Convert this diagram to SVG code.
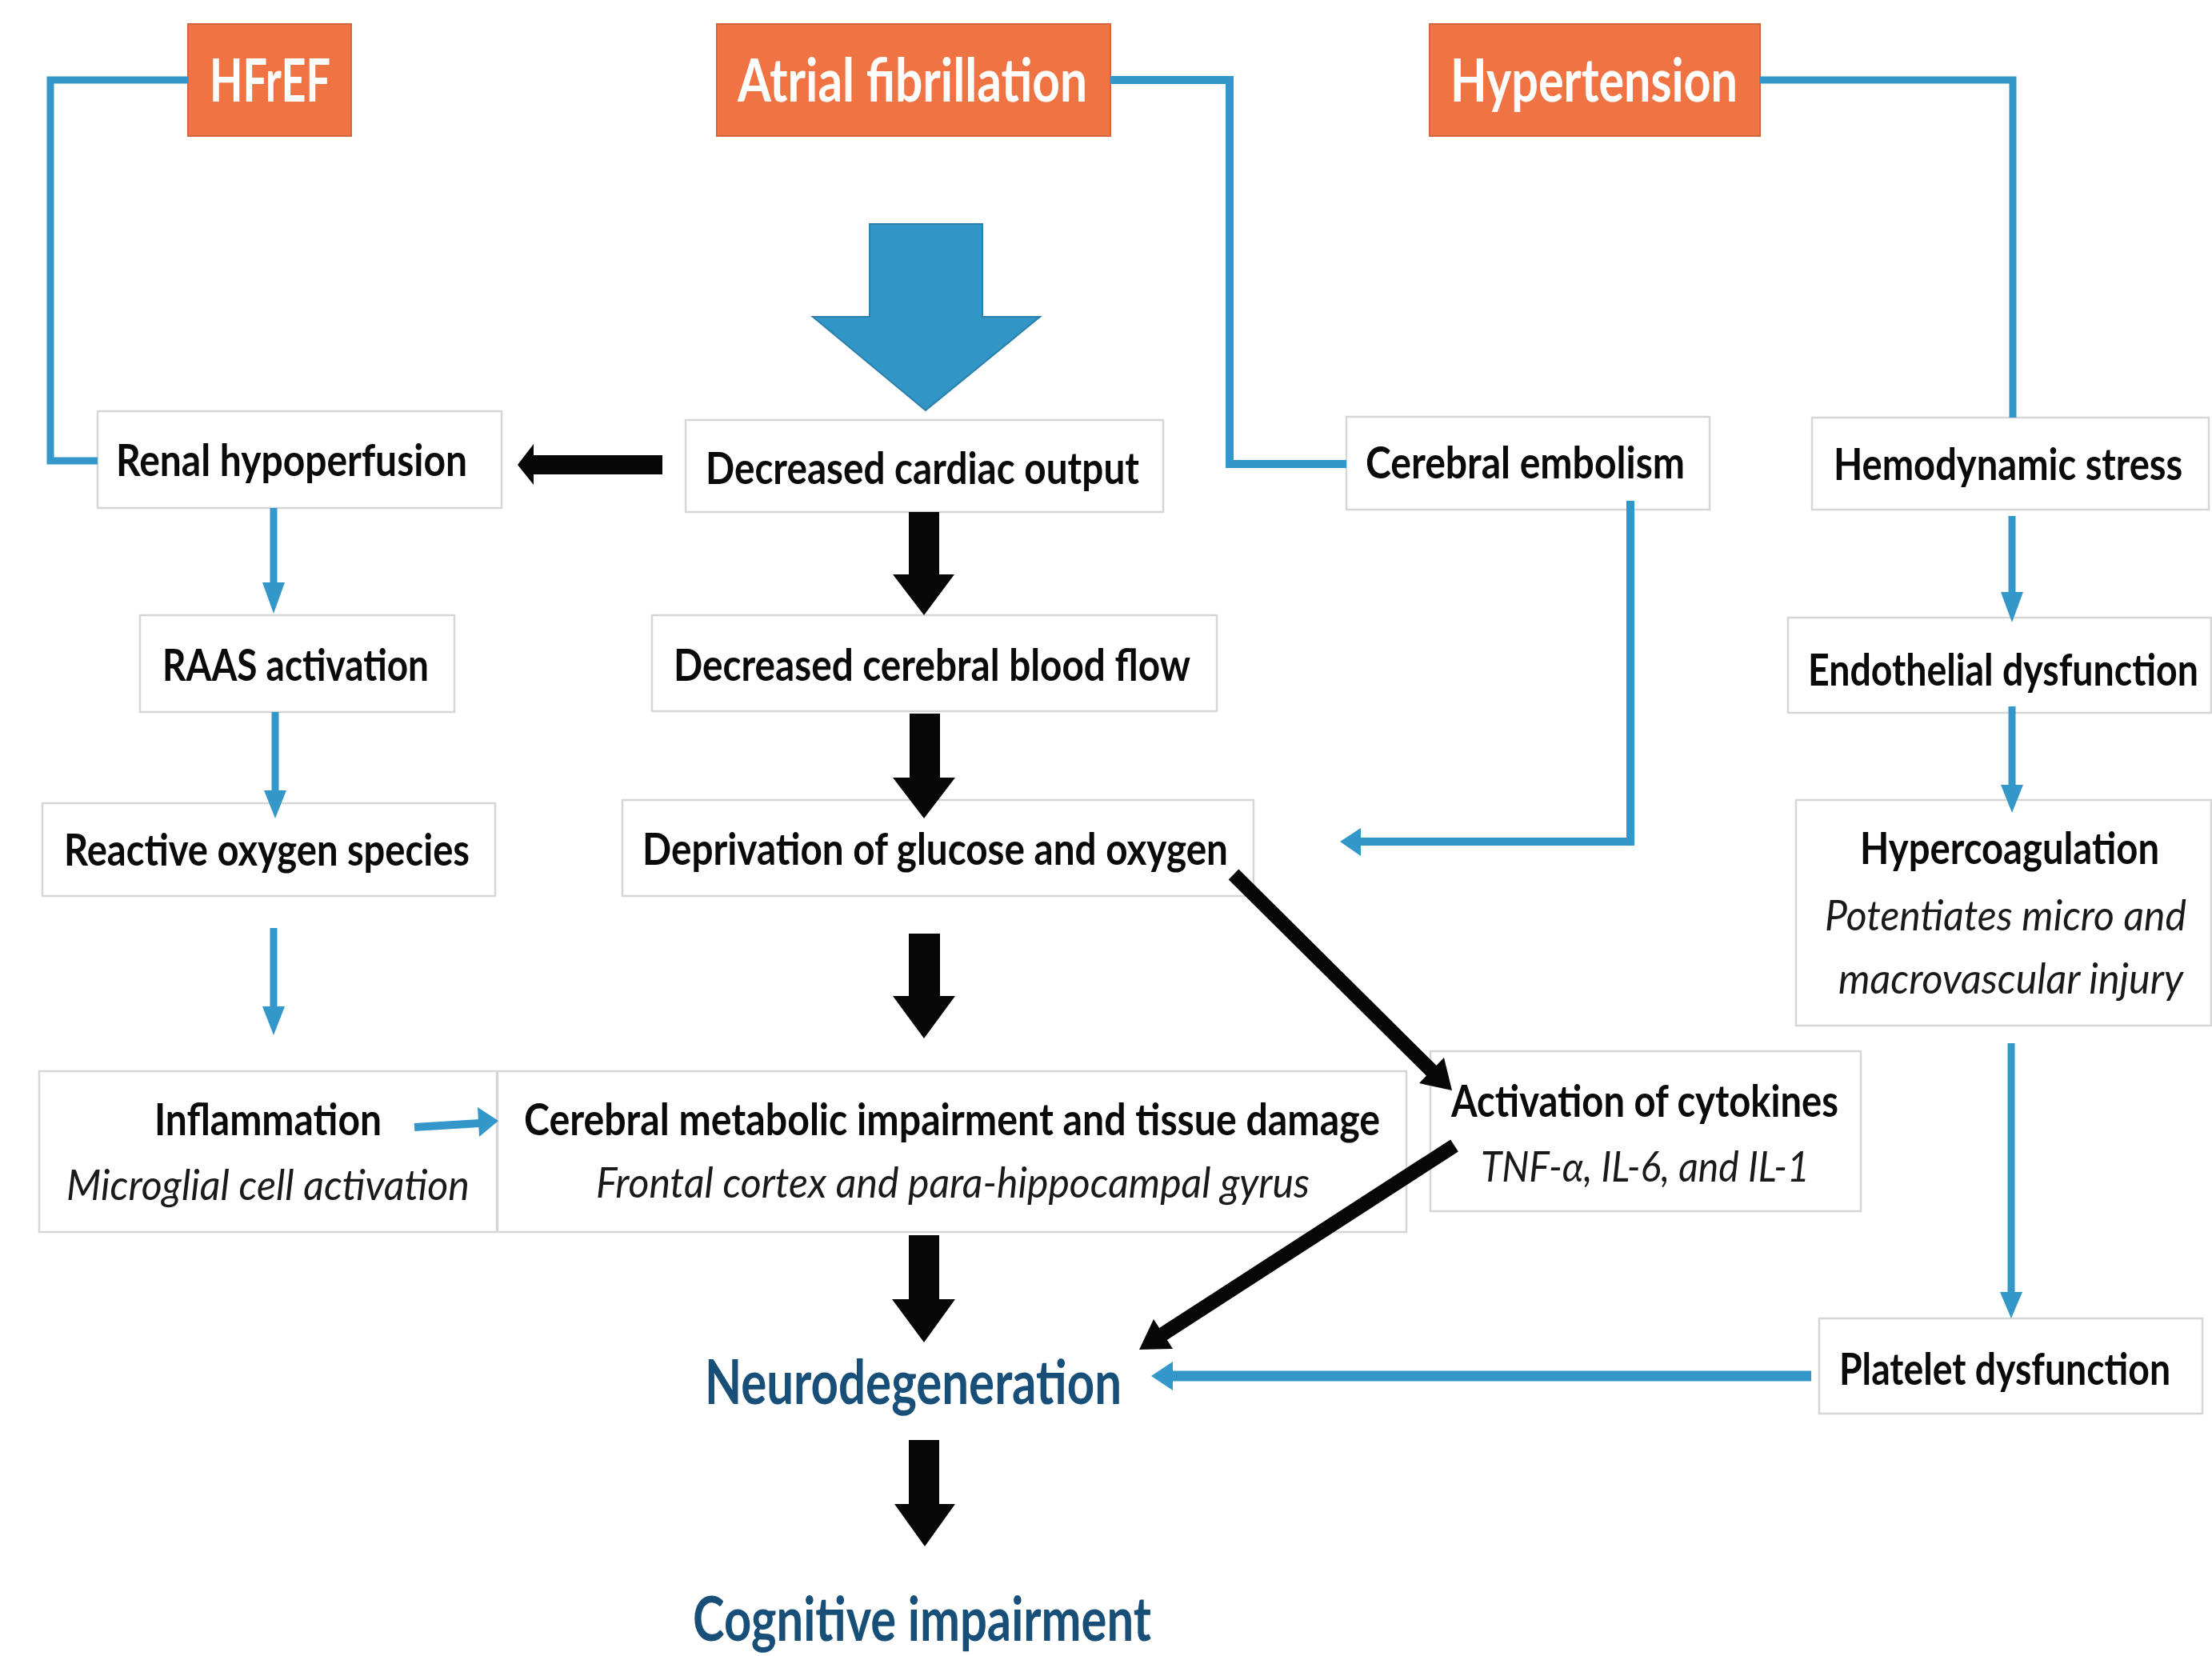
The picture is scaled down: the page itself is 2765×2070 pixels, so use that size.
<svg xmlns="http://www.w3.org/2000/svg" width="2765" height="2070" viewBox="0 0 2765 2070">
<style>
.box{fill:#ffffff;stroke:#d6d6d6;stroke-width:2.5}
.obox{fill:#f07443;stroke:#d2663c;stroke-width:2}
.t{font-family:Lato,"Liberation Sans",sans-serif;font-weight:bold;font-size:55px;fill:#0a0a0a}
.i{font-family:Lato,"Liberation Sans",sans-serif;font-style:italic;font-size:53px;fill:#1a1a1a}
.ot{font-family:Lato,"Liberation Sans",sans-serif;font-weight:bold;font-size:74px;fill:#ffffff}
.bt{font-family:Lato,"Liberation Sans",sans-serif;font-weight:bold;font-size:77px;fill:#174f78}
.bl{fill:none;stroke:#3398c9;stroke-width:9;stroke-linejoin:miter}
.bh{fill:#3398c9}
.blk{fill:#070707}
.bk{stroke:#070707;stroke-width:18;fill:none}
</style>
<rect width="2765" height="2070" fill="#ffffff"/>
<g id="hfref"><rect class="obox" x="235" y="30" width="204" height="140"/><text class="ot" x="262" y="127" textLength="151" lengthAdjust="spacingAndGlyphs">HFrEF</text></g>
<g id="af"><rect class="obox" x="896" y="30" width="492" height="140"/><text class="ot" x="922" y="127" textLength="437" lengthAdjust="spacingAndGlyphs">Atrial fibrillation</text></g>
<g id="htn"><rect class="obox" x="1787" y="30" width="413" height="140"/><text class="ot" x="1813" y="127" textLength="359" lengthAdjust="spacingAndGlyphs">Hypertension</text></g>
<g id="renal"><rect class="box" x="122" y="514" width="505" height="121"/><text class="t" x="145" y="595" textLength="439" lengthAdjust="spacingAndGlyphs">Renal hypoperfusion</text></g>
<g id="dco"><rect class="box" x="857" y="525" width="597" height="115"/><text class="t" x="882" y="605" textLength="542" lengthAdjust="spacingAndGlyphs">Decreased cardiac output</text></g>
<g id="embolism"><rect class="box" x="1683" y="521" width="454" height="116"/><text class="t" x="1707" y="598" textLength="399" lengthAdjust="spacingAndGlyphs">Cerebral embolism</text></g>
<g id="hemo"><rect class="box" x="2265" y="522" width="496" height="115"/><text class="t" transform="translate(2292,600) scale(0.82,1)" x="0" y="0" textLength="532" lengthAdjust="spacingAndGlyphs">Hemodynamic stress</text></g>
<g id="raas"><rect class="box" x="175" y="769" width="393" height="121"/><text class="t" x="203" y="851" textLength="333" lengthAdjust="spacingAndGlyphs">RAAS activation</text></g>
<g id="dcbf"><rect class="box" x="815" y="769" width="706" height="120"/><text class="t" x="842" y="851" textLength="646" lengthAdjust="spacingAndGlyphs">Decreased cerebral blood flow</text></g>
<g id="endo"><rect class="box" x="2235" y="772" width="529" height="119"/><text class="t" transform="translate(2260,857) scale(0.82,1)" x="0" y="0" textLength="595" lengthAdjust="spacingAndGlyphs">Endothelial dysfunction</text></g>
<g id="ros"><rect class="box" x="53" y="1004" width="566" height="116"/><text class="t" x="80" y="1082" textLength="507" lengthAdjust="spacingAndGlyphs">Reactive oxygen species</text></g>
<g id="deprivation"><rect class="box" x="778" y="1000" width="789" height="120"/><text class="t" x="803" y="1081" textLength="732" lengthAdjust="spacingAndGlyphs">Deprivation of glucose and oxygen</text></g>
<g id="hypercoag"><rect class="box" x="2245" y="1000" width="519" height="282"/><text class="t" x="2325" y="1080" textLength="374" lengthAdjust="spacingAndGlyphs">Hypercoagulation</text><text class="i" x="2281" y="1163" textLength="452" lengthAdjust="spacingAndGlyphs">Potentiates micro and</text><text class="i" x="2298" y="1242" textLength="431" lengthAdjust="spacingAndGlyphs">macrovascular injury</text></g>
<g id="inflammation"><rect class="box" x="49" y="1339" width="572" height="201"/><text class="t" x="193" y="1419" textLength="284" lengthAdjust="spacingAndGlyphs">Inflammation</text><text class="i" x="83" y="1500" textLength="504" lengthAdjust="spacingAndGlyphs">Microglial cell activation</text></g>
<g id="metabolic"><rect class="box" x="622" y="1339" width="1136" height="201"/><text class="t" x="655" y="1419" textLength="1070" lengthAdjust="spacingAndGlyphs">Cerebral metabolic impairment and tissue damage</text><text class="i" x="745" y="1497" textLength="892" lengthAdjust="spacingAndGlyphs">Frontal cortex and para-hippocampal gyrus</text></g>
<g id="cytokines"><rect class="box" x="1788" y="1314" width="538" height="200"/><text class="t" x="1814" y="1396" textLength="484" lengthAdjust="spacingAndGlyphs">Activation of cytokines</text><text class="i" x="1851" y="1477" textLength="411" lengthAdjust="spacingAndGlyphs">TNF-α, IL-6, and IL-1</text></g>
<g id="platelet"><rect class="box" x="2274" y="1648" width="479" height="119"/><text class="t" transform="translate(2299,1731) scale(0.82,1)" x="0" y="0" textLength="505" lengthAdjust="spacingAndGlyphs">Platelet dysfunction</text></g>
<g id="neuro"><text class="bt" x="881" y="1755" textLength="521" lengthAdjust="spacingAndGlyphs">Neurodegeneration</text></g>
<g id="cognitive"><text class="bt" x="866" y="2051" textLength="573" lengthAdjust="spacingAndGlyphs">Cognitive impairment</text></g>
<g id="connectors">
  <polyline class="bl" points="235,100 63,100 63,576 122,576"/>
  <polyline class="bl" points="1388,100 1537,100 1537,580 1683,580" style="stroke-width:10"/>
  <polyline class="bl" points="2200,100 2516,100 2516,522"/>
  <polygon fill="#3196c6" stroke="#2b80ac" stroke-width="2" points="1087,280 1228,280 1228,396 1300,396 1157,513 1016,396 1087,396"/>
  <polygon class="blk" points="828,569 828,593 667,593 667,606 647,581 667,555 667,569"/>
  <polygon class="blk" points="1136,640 1174,640 1174,718 1193,718 1155,769 1116,718 1136,718"/>
  <polygon class="blk" points="1137,892 1175,892 1175,972 1194,972 1155,1023 1116,972 1137,972"/>
  <polygon class="blk" points="1136,1167 1175,1167 1175,1245 1194,1245 1155,1298 1116,1245 1136,1245"/>
  <polygon class="blk" points="1136,1544 1174,1544 1174,1624 1194,1624 1155,1678 1115,1624 1136,1624"/>
  <polygon class="blk" points="1136,1800 1174,1800 1174,1880 1194,1880 1156,1933 1118,1880 1136,1880"/>
  <line class="bk" x1="1542" y1="1093" x2="1795" y2="1344"/>
  <polygon class="blk" points="1815,1363 1774,1354 1805,1322"/>
  <line class="bk" x1="1818" y1="1432" x2="1450" y2="1670"/>
  <polygon class="blk" points="1424,1687 1466,1686 1442,1649"/>
  <line class="bl" x1="342" y1="635" x2="342" y2="730"/>
  <polygon class="bh" points="328,728 356,728 342,767"/>
  <line class="bl" x1="344" y1="890" x2="344" y2="990"/>
  <polygon class="bh" points="330,988 358,988 344,1023"/>
  <line class="bl" x1="342" y1="1160" x2="342" y2="1260"/>
  <polygon class="bh" points="328,1258 356,1258 342,1294"/>
  <line class="bl" x1="2515" y1="645" x2="2515" y2="742"/>
  <polygon class="bh" points="2501,740 2529,740 2515,778"/>
  <line class="bl" x1="2515" y1="883" x2="2515" y2="983"/>
  <polygon class="bh" points="2501,981 2529,981 2515,1016"/>
  <line class="bl" x1="2514" y1="1304" x2="2514" y2="1617"/>
  <polygon class="bh" points="2500,1615 2528,1615 2514,1648"/>
  <line class="bl" x1="518" y1="1409" x2="600" y2="1404" style="stroke-width:10"/>
  <polygon class="bh" points="597,1384 599,1421 623,1401"/>
  <line class="bl" x1="2264" y1="1720" x2="1462" y2="1720" style="stroke-width:13"/>
  <polygon class="bh" points="1466,1702 1466,1738 1439,1720"/>
  <polyline class="bl" points="2038,626 2038,1052 1698,1052" style="stroke-width:10"/>
  <polygon class="bh" points="1701,1035 1701,1070 1675,1052"/>
</g>
</svg>
